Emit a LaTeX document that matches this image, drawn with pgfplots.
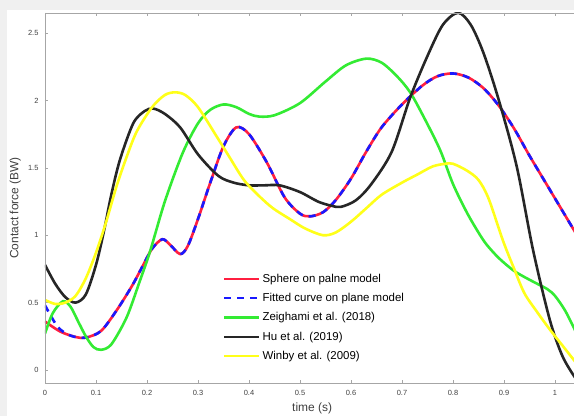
\documentclass[border=0pt]{standalone}
\usepackage{pgfplots}
\pgfplotsset{compat=1.18}
\usepackage{fontspec}
\setmainfont{Liberation Sans}
\definecolor{cred}{rgb}{1,0.12,0.25}
\definecolor{cblue}{rgb}{0.1,0.1,1}
\definecolor{cgreen}{rgb}{0.2,0.92,0.2}
\definecolor{cblack}{rgb}{0.15,0.15,0.15}
\definecolor{cyellow}{rgb}{1,1,0.1}
\definecolor{bggray}{rgb}{0.94,0.94,0.94}
\begin{document}
\begin{tikzpicture}
\fill[bggray] (-45bp,-33bp) rectangle (529bp,383bp);
\fill[white] (-38bp,-33bp) rectangle (529bp,373bp);
\useasboundingbox (-45bp,-33bp) rectangle (529bp,383bp);
\begin{axis}[
  name=ax, at={(0,0)}, anchor=south west,
  scale only axis, width=529bp, height=370bp,
  xmin=0, xmax=1.0373, ymin=-0.0964, ymax=2.6485,
  axis line style={draw=none},
  xtick={0,0.1,0.2,0.3,0.4,0.5,0.6,0.7,0.8,0.9,1},
  xticklabels={0,0.1,0.2,0.3,0.4,0.5,0.6,0.7,0.8,0.9,1},
  ytick={0,0.5,1,1.5,2,2.5},
  yticklabels={0,0.5,1,1.5,2,2.5},
  tick align=inside, xtick pos=both, ytick pos=left,
  major tick length=3bp,
  tick style={gray!70, line width=0.5bp},
  ticklabel style={font=\fontsize{7.5}{8.5}\selectfont, text=black!75},
  xticklabel style={yshift=-4bp},
  yticklabel style={xshift=-3bp},
  /pgf/number format/assume math mode=true,
  xlabel={time (s)}, ylabel={Contact force (BW)},
  label style={font=\fontsize{12}{14}\selectfont, text=black!75},
  xlabel style={at={(axis description cs:0.505,0)}, anchor=center, yshift=-25.5bp},
  ylabel style={at={(axis description cs:-0.056,0.473)}, anchor=center},
  legend style={at={(axis cs:0.349,0.728)}, anchor=north west, draw=none, fill=none,
    font=\fontsize{11.5}{13.5}\selectfont, row sep=5.5bp, inner sep=0pt},
  legend cell align=left,
  legend image code/.code={\draw[#1, line width=2.4bp] (0bp,0bp) -- (35bp,0bp);},
  every axis plot/.append style={smooth, tension=0.5, line width=2.6bp},
]
\addplot[cred] coordinates {(0,0.36) (0.03,0.285) (0.06,0.245) (0.08,0.24) (0.11,0.29) (0.14,0.44) (0.17,0.62) (0.19,0.76) (0.21,0.90) (0.23,0.97) (0.245,0.93) (0.265,0.86) (0.28,0.92) (0.30,1.12) (0.325,1.40) (0.35,1.66) (0.375,1.80) (0.40,1.75) (0.435,1.54) (0.47,1.28) (0.50,1.16) (0.52,1.14) (0.545,1.17) (0.57,1.26) (0.60,1.42) (0.63,1.62) (0.66,1.80) (0.70,1.97) (0.74,2.11) (0.77,2.18) (0.80,2.20) (0.83,2.17) (0.86,2.09) (0.89,1.96) (0.92,1.79) (0.95,1.59) (0.98,1.40) (1.01,1.21) (1.04,1.02)};
\addlegendentry{Sphere on palne model}
\addplot[cblue, dash pattern=on 7bp off 6bp] coordinates {(0,0.48) (0.025,0.32) (0.05,0.255) (0.08,0.24) (0.11,0.29) (0.14,0.44) (0.17,0.62) (0.19,0.76) (0.21,0.90) (0.23,0.97) (0.245,0.93) (0.265,0.86) (0.28,0.92) (0.30,1.12) (0.325,1.40) (0.35,1.66) (0.375,1.80) (0.40,1.75) (0.435,1.54) (0.47,1.28) (0.50,1.16) (0.52,1.14) (0.545,1.17) (0.57,1.26) (0.60,1.42) (0.63,1.62) (0.66,1.80) (0.70,1.97) (0.74,2.11) (0.77,2.18) (0.80,2.20) (0.83,2.17) (0.86,2.09) (0.89,1.96) (0.92,1.79) (0.95,1.59) (0.98,1.40) (1.01,1.21) (1.04,1.02)};
\addlegendentry{Fitted curve on plane model}
\addplot[cgreen] coordinates {(0,0.27) (0.015,0.42) (0.035,0.51) (0.05,0.47) (0.065,0.36) (0.08,0.25) (0.095,0.17) (0.11,0.15) (0.13,0.19) (0.16,0.39) (0.185,0.65) (0.206,0.88) (0.235,1.25) (0.27,1.61) (0.30,1.83) (0.324,1.93) (0.35,1.97) (0.375,1.95) (0.40,1.90) (0.42,1.88) (0.45,1.89) (0.50,1.98) (0.55,2.14) (0.59,2.26) (0.63,2.31) (0.66,2.28) (0.69,2.18) (0.716,2.06) (0.745,1.86) (0.775,1.63) (0.80,1.38) (0.827,1.17) (0.85,1.02) (0.866,0.93) (0.89,0.83) (0.918,0.74) (0.94,0.69) (0.965,0.64) (0.985,0.60) (1.00,0.55) (1.02,0.44) (1.04,0.29)};
\addlegendentry{Zeighami et al. (2018)}
\addplot[cblack] coordinates {(0,0.78) (0.02,0.64) (0.04,0.54) (0.06,0.50) (0.08,0.56) (0.10,0.78) (0.115,1.02) (0.13,1.30) (0.147,1.56) (0.173,1.83) (0.195,1.92) (0.212,1.94) (0.235,1.90) (0.265,1.80) (0.30,1.60) (0.34,1.44) (0.37,1.39) (0.40,1.37) (0.43,1.37) (0.46,1.37) (0.50,1.32) (0.535,1.25) (0.56,1.22) (0.58,1.21) (0.61,1.26) (0.64,1.38) (0.68,1.62) (0.716,2.02) (0.75,2.33) (0.78,2.56) (0.81,2.65) (0.835,2.56) (0.86,2.35) (0.89,2.00) (0.925,1.51) (0.957,0.89) (0.99,0.37) (1.015,0.10) (1.04,-0.06)};
\addlegendentry{Hu et al. (2019)}
\addplot[cyellow] coordinates {(0,0.52) (0.02,0.49) (0.04,0.50) (0.06,0.55) (0.08,0.68) (0.10,0.87) (0.12,1.10) (0.14,1.36) (0.16,1.58) (0.18,1.77) (0.21,1.95) (0.235,2.04) (0.255,2.06) (0.275,2.04) (0.30,1.95) (0.337,1.73) (0.36,1.59) (0.39,1.41) (0.42,1.29) (0.447,1.20) (0.48,1.12) (0.51,1.05) (0.545,1.00) (0.57,1.02) (0.60,1.10) (0.63,1.20) (0.66,1.30) (0.70,1.39) (0.73,1.45) (0.76,1.51) (0.785,1.53) (0.80,1.53) (0.827,1.48) (0.85,1.41) (0.87,1.27) (0.898,0.96) (0.92,0.75) (0.94,0.57) (0.965,0.43) (0.99,0.30) (1.015,0.18) (1.04,0.06)};
\addlegendentry{Winby et al. (2009)}
\end{axis}
\draw[gray!70, line width=0.6bp] (ax.south east) -- (ax.south west) -- (ax.north west) -- (ax.north east);
\end{tikzpicture}
\end{document}
